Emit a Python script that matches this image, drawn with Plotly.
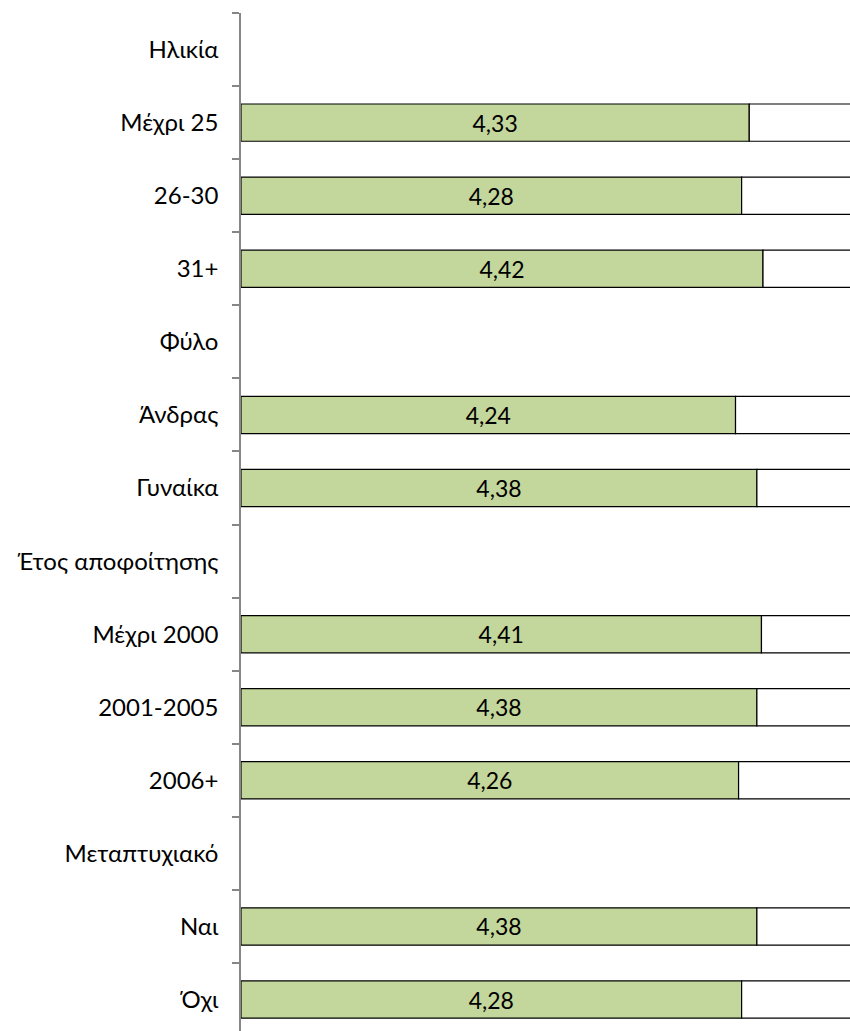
import plotly.graph_objects as go

categories = ["Ηλικία", "Μέχρι 25", "26-30", "31+", "Φύλο", "Άνδρας", "Γυναίκα",
              "Έτος αποφοίτησης", "Μέχρι 2000", "2001-2005", "2006+",
              "Μεταπτυχιακό", "Ναι", "Όχι"]
values = [None, 4.33, 4.28, 4.42, None, 4.24, 4.38,
          None, 4.41, 4.38, 4.26, None, 4.38, 4.28]
axis_min = 1
axis_max = 5

green_len = [None if v is None else v - axis_min for v in values]
rest_len = [None if v is None else axis_max - v for v in values]
labels = ["" if v is None else f"{v:.2f}".replace(".", ",") for v in values]

fig = go.Figure()
fig.add_trace(go.Bar(
    y=categories, x=green_len, base=axis_min, orientation="h",
    marker=dict(color="#C3D69B", line=dict(color="#000000", width=1.2)),
    text=labels, textposition="inside", insidetextanchor="middle",
    textfont=dict(family="Lato, Open Sans, sans-serif", size=23, color="#000000"),
    constraintext="none", showlegend=False,
))
fig.add_trace(go.Bar(
    y=categories, x=rest_len, base=[v for v in values], orientation="h",
    marker=dict(color="#FFFFFF", line=dict(color="#000000", width=1.2)),
    showlegend=False,
))

fig.update_layout(
    width=850, height=1031,
    margin=dict(l=241, r=0, t=13, b=0),
    barmode="overlay", bargap=0.49,
    paper_bgcolor="white", plot_bgcolor="white",
    xaxis=dict(range=[axis_min, axis_max - 0.01], visible=False, fixedrange=True),
    yaxis=dict(
        type="category", categoryorder="array", categoryarray=categories,
        range=[13.43, -0.5],
        showline=True, linecolor="#868686", linewidth=1.5,
        ticks="outside", tickson="boundaries", ticklen=7, tickcolor="#868686",
        tickwidth=1.5,
        tickfont=dict(family="Lato, Open Sans, sans-serif", size=24, color="#000000"),
        ticklabelstandoff=16, showgrid=False, zeroline=False,
    ),
)
fig.write_html("out.html", config={"displayModeBar": False},
               post_script="document.body.style.margin='0px';")
